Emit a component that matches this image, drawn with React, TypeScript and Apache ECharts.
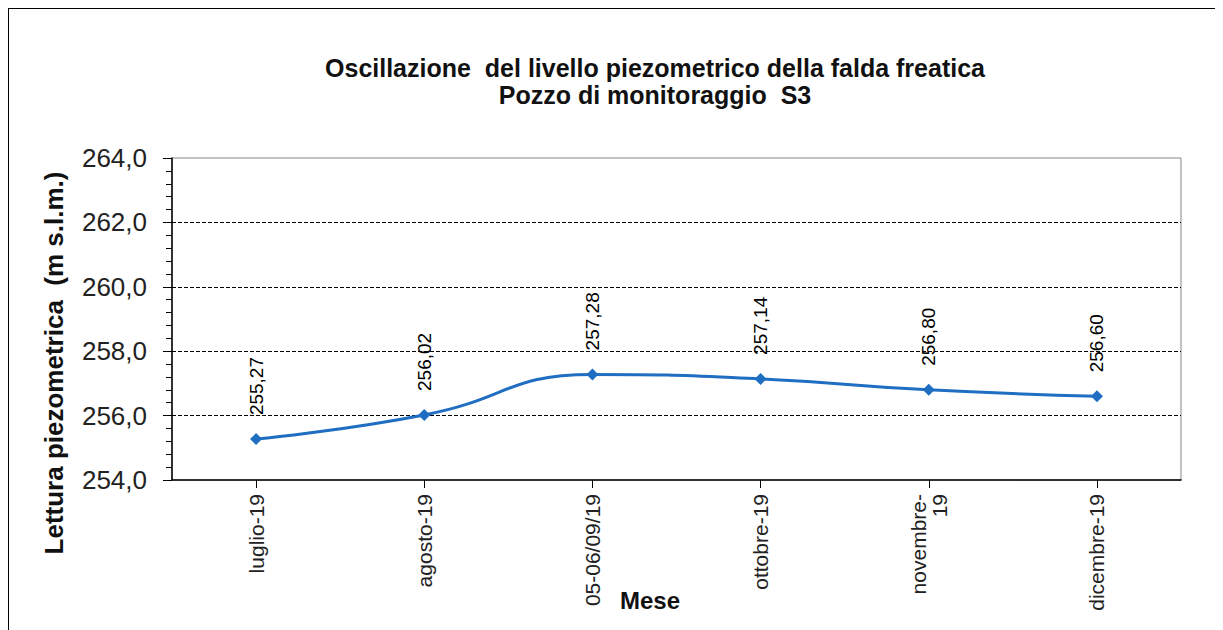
import React, { useEffect, useRef } from "react";
import * as echarts from "echarts";

const categories = ["luglio-19", "agosto-19", "05-06/09/19", "ottobre-19", "novembre-\n19", "dicembre-19"];
const values = [255.27, 256.02, 257.28, 257.14, 256.8, 256.6];
const yMin = 254;
const yMax = 264;
const yStep = 2;
const titleLines = ["Oscillazione  del livello piezometrico della falda freatica", "Pozzo di monitoraggio  S3"];
const yName = "Lettura piezometrica  (m s.l.m.)";
const xName = "Mese";

export default function App() {
  const ref = useRef<HTMLDivElement>(null);
  useEffect(() => {
    if (!ref.current) return;
    const chart = echarts.init(ref.current, null, { renderer: "svg" });
    const fmt = (v: number) => v.toFixed(2).replace(".", ",");
    chart.setOption({
      animation: false,
      backgroundColor: "#fff",
      title: {
        text: titleLines.join("\n"),
        left: 641,
        top: 40,
        textAlign: "center",
        textStyle: { fontFamily: "Liberation Sans, Arial", fontWeight: "bold", fontSize: 25, lineHeight: 27, color: "#111" },
      },
      grid: { left: 163, top: 149, width: 1009, height: 322, show: true, borderColor: "#888", borderWidth: 1, backgroundColor: "transparent" },
      xAxis: {
        type: "category",
        data: categories,
        boundaryGap: true,
        axisLine: { lineStyle: { color: "#000", width: 1.5 } },
        axisTick: { show: true, alignWithLabel: true, length: 8, lineStyle: { color: "#000" } },
        axisLabel: { rotate: 90, margin: 14, fontSize: 21, color: "#222", fontFamily: "Liberation Sans, Arial", lineHeight: 21, interval: 0 },
        splitLine: { show: false },
      },
      yAxis: {
        type: "value",
        min: yMin,
        max: yMax,
        interval: yStep,
        axisLine: { show: true, lineStyle: { color: "#000", width: 1.5 } },
        axisTick: { show: true, length: 9, lineStyle: { color: "#000" } },
        minorTick: { show: true, splitNumber: 5, length: 6, lineStyle: { color: "#000" } },
        axisLabel: { formatter: (v: number) => v.toFixed(1).replace(".", ","), fontSize: 26, color: "#222", margin: 25, fontFamily: "Liberation Sans, Arial" },
        splitLine: { show: true, lineStyle: { type: [4, 2], width: 1, color: ["rgba(0,0,0,0)", "#000", "#000", "#000", "#000", "rgba(0,0,0,0)"] } },
      },
      graphic: [
        {
          type: "text",
          x: 45,
          y: 354,
          rotation: Math.PI / 2,
          style: { text: yName, fontSize: 26, fontWeight: "bold", fontFamily: "Liberation Sans, Arial", fill: "#111", align: "center", verticalAlign: "middle" },
        },
        {
          type: "text",
          x: 641,
          y: 591,
          style: { text: xName, fontSize: 24, fontWeight: "bold", fontFamily: "Liberation Sans, Arial", fill: "#111", align: "center", verticalAlign: "middle" },
        },
      ],
      series: [
        {
          type: "line",
          data: values,
          smooth: 0.5,
          symbol: "diamond",
          symbolSize: 12,
          lineStyle: { color: "#1f6ec2", width: 3 },
          itemStyle: { color: "#1f6ec2" },
          label: {
            show: true,
            position: "top",
            distance: 18,
            rotate: 90,
            align: "left",
            verticalAlign: "middle",
            formatter: (p: any) => fmt(p.value),
            fontSize: 19,
            fontFamily: "Liberation Sans, Arial",
            color: "#000",
          },
        },
      ],
    });
    return () => chart.dispose();
  }, []);
  return (
    <div style={{ width: 1214, height: 622, borderTop: "1px solid #000", borderLeft: "1px solid #000", borderRight: "1px solid #000", boxSizing: "border-box", position: "relative" }}>
      <div ref={ref} style={{ position: "absolute", left: 0, top: 0, width: 1212, height: 621 }} />
    </div>
  );
}
